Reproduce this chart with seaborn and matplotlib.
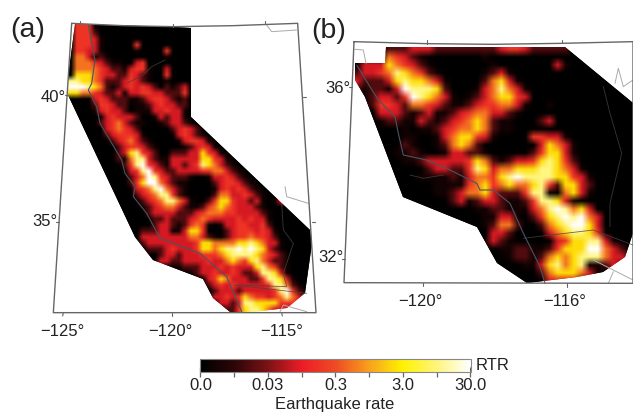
import numpy as np
import matplotlib
matplotlib.use('Agg')
import matplotlib.pyplot as plt
from matplotlib.colors import LinearSegmentedColormap, LogNorm
from matplotlib.path import Path
import seaborn as sns

# rate for each digit used in the grids below
rate_levels = [0.003, 0.005, 0.016, 0.075, 0.17, 0.52, 2.2, 10.0, 30.0]
bar_ticks = [0.003, 0.00949, 0.03, 0.0949, 0.3, 0.949, 3.0, 9.49, 30.0]
bar_labels = ['0.0', '', '0.03', '', '0.3', '', '3.0', '', '30.0']

grid_a = [
    "044410000000000000000",
    "044420000000000000000",
    "044431000000000000000",
    "044431000004000000000",
    "044331000001000040000",
    "055312100000000010000",
    "055543211003400000000",
    "055554322134410030000",
    "066654332243210040000",
    "776654222343210010000",
    "888765212343432021230",
    "665543223133443322240",
    "000034322211234432120",
    "000024432201123433220",
    "000013433201113343310",
    "00000134333200132331",
    "000002345321100123321",
    "0000003454320000023432",
    "00000023444310000034321",
    "000000023453210000134431",
    "0000000023443210000123431",
    "00000000236743200222336431",
    "000000002157732113333366431",
    "0000000002478432133234765321",
    "00000000003478432233334455321",
    "000000000023587432221001334321",
    "0000000000246885321100002344321",
    "00000000000345785321000013434321",
    "000000000002345774210000255334321",
    "00000000000023457753100246643323101330000",
    "00000000000012345532112456543332100000000",
    "00000000000002333322234555443333210000000",
    "00000000000000223222345433334343310000000",
    "00000000000000233212454101334433420000000",
    "00000000000022233113664000234443431000000",
    "00000000000033333333553210234454432000000",
    "00000000000023333333346655556676533100000",
    "00000000000002223433346656778787632100000",
    "00000000000000023323334445677776543210000",
    "00000000000000033223333433565467532210000",
    "00000000000000000112223334343336754210000",
    "00000000000000000000123343343223776310000",
    "00000000000000000000000346533322477631000",
    "00000000000000000000000234343333347752100",
    "00000000000000000000000023332333334784210",
    "00000000000000000000000033434654434575320",
    "00000000000000000000000003323776666444320",
    "00000000000000000000000000224677653332100",
]

grid_b = [
    "000022233322222222344322222",
    "0000543210000000100000000",
    "033365432100000001000000031",
    "233457654210000012310",
    "3222367665310000256310",
    "2122138777620001357531",
    "0123324876531012356643",
    "0024432554321123445531001",
    "000333212311234553321",
    "0001221132123456521100023",
    "00000010112345565211",
    "000000110013566431000044331",
    "0000002100125652000000036531",
    "0000011210013322100000246631",
    "0000001123333346521233467642",
    "00000000023322476355666776531",
    "000000001111213554678777766431",
    "000000000011114564565567426632",
    "000000000011235563222477105631",
    "0000000000002312332112477631",
    "000000000000000112211135787563",
    "0000000000000000113310246787853",
    "0000000000000000125520025678863",
    "00000000000000000332000035677641",
    "000000000000000013210000034667731",
    "0000000000000000001122112466688532",
    "00000000000000000001221256567775332",
    "0000000000000000000001136756711232",
    "000000000000000000000002566653100",
    "000000000000000000000000333310",
]

# map outlines, traced in 3x picture pixels
region_a = [(225, 72), (520, 82), (572, 84), (572, 350), (930, 690), (935, 730), (915, 880), (860, 925),
            (730, 938), (690, 935), (640, 895), (610, 838), (460, 780), (405, 710), (205, 285), (205, 235)]
frame_a = [(215, 70), (370, 77), (520, 80), (700, 77), (893, 70), (948, 938), (160, 938), (215, 70)]
coast_a = [(265, 75), (285, 180), (275, 250), (265, 270), (290, 320), (300, 370), (365, 480), (375, 520),
           (405, 560), (400, 590), (440, 640), (480, 715), (600, 760), (680, 830), (725, 935)]
border_a = [[(845, 610), (850, 690), (880, 730), (850, 820), (860, 860), (715, 855)], [(700, 855), (920, 880)],
            [(380, 250), (430, 225), (455, 200), (495, 180)]]
outer_a = [[(800, 75), (815, 95), (890, 90)], [(855, 560), (860, 590), (925, 610)],
           [(840, 935), (850, 915), (920, 935)]]

region_b = [(228, 140), (765, 140), (969, 310), (969, 700), (945, 770), (880, 815), (800, 830), (650, 848),
            (560, 790), (500, 680), (280, 590), (165, 290), (135, 240), (135, 190), (225, 190)]
frame_b = [(132, 125), (350, 131), (550, 133), (755, 130), (969, 125), (969, 850), (102, 848), (132, 125)]
coast_b = [(140, 195), (180, 260), (205, 300), (255, 350), (265, 400), (280, 465), (350, 480), (420, 510),
           (500, 550), (510, 570), (550, 570), (600, 610), (640, 700), (690, 800), (705, 850)]
border_b = [[(640, 715), (850, 690), (969, 735)], [(880, 260), (900, 340), (935, 460), (900, 610), (900, 680)],
            [(300, 525), (340, 535), (400, 525)]]
outer_b = [[(135, 148), (160, 150), (168, 190)], [(915, 250), (925, 205), (940, 260), (969, 240)],
           [(850, 780), (890, 800), (969, 840)], [(895, 850), (910, 815)]]


def rates(rows, ncols):
    cells = [[rate_levels[int(ch)] for ch in row.ljust(ncols, '0')[:ncols]] for row in rows]
    return np.array(cells)


def to_px(points, dx=0):
    pts = np.array(points, dtype=float) / 3
    pts[:, 0] += dx
    return pts


def raster(fig, overlay, data, box, region, cmap, norm, cax=None):
    W, H = fig.get_size_inches() * fig.dpi
    x0, y0, x1, y1 = box
    ax = fig.add_axes([x0 / W, 1 - y1 / H, (x1 - x0) / W, (y1 - y0) / H])
    kws = {'orientation': 'horizontal'}
    if cax is None:
        sns.heatmap(data, ax=ax, cmap=cmap, norm=norm, cbar=False, xticklabels=False, yticklabels=False)
    else:
        sns.heatmap(data, ax=ax, cmap=cmap, norm=norm, cbar_ax=cax, cbar_kws=kws,
                    xticklabels=False, yticklabels=False)
    xl, yl = ax.get_xlim(), ax.get_ylim()
    # reference is a soft resampled raster
    im = ax.imshow(data, cmap=cmap, norm=norm, extent=(0, data.shape[1], data.shape[0], 0), aspect='auto',
                   interpolation='bilinear', interpolation_stage='rgba', zorder=3)
    ax.set_xlim(xl)
    ax.set_ylim(yl)
    ax.axis('off')
    clip = Path(np.vstack([region, region[:1]]))
    im.set_clip_path(clip, transform=overlay.transData)
    ax.collections[0].set_clip_path(clip, transform=overlay.transData)
    return ax


sns.set_theme(style='white')
plt.rcParams['font.family'] = ['Liberation Sans', 'DejaVu Sans']

fig = plt.figure(figsize=(6.33, 4.12), dpi=100)
overlay = fig.add_axes([0, 0, 1, 1], zorder=5)
overlay.set_xlim(0, 633)
overlay.set_ylim(412, 0)
overlay.axis('off')
overlay.patch.set_alpha(0)

colors = [(0.0, '#000000'), (0.125, '#2c0607'), (0.25, '#7c1216'), (0.375, '#ec1c26'), (0.5, '#ef4a24'),
          (0.625, '#f8a01c'), (0.75, '#fff200'), (0.875, '#fff57a'), (1.0, '#ffffff')]
cmap = LinearSegmentedColormap.from_list('rtr', colors)
norm = LogNorm(vmin=rate_levels[0], vmax=rate_levels[-1])

cax = fig.add_axes([200.5 / 633, 1 - 372 / 412, 270 / 633, 13 / 412])
raster(fig, overlay, rates(grid_a, 41), (68, 24, 314, 312), to_px(region_a), cmap, norm, cax=cax)
raster(fig, overlay, rates(grid_b, 35), (353.33, 45, 633.33, 285), to_px(region_b, 310), cmap, norm)

cbar = fig.axes[2].collections[0].colorbar
cbar.set_ticks(bar_ticks, labels=bar_labels)
cax.minorticks_off()
cax.tick_params(axis='x', length=7, width=0.9, color='#666666', direction='inout', labelsize=12, pad=1,
                labelcolor='#222222', bottom=True)
cbar.outline.set_visible(True)
cbar.outline.set_linewidth(0.8)
cbar.outline.set_edgecolor('#888888')
overlay.text(476, 365.5, 'RTR', fontsize=12, color='#222222', ha='left', va='center')
overlay.text(335, 404, 'Earthquake rate', fontsize=12, color='#222222', ha='center', va='center')

for pts, dx, lines, outers, coast in [(frame_a, 0, border_a, outer_a, coast_a), (frame_b, 310, border_b, outer_b, coast_b)]:
    for ln in outers:
        p = to_px(ln, dx)
        overlay.plot(p[:, 0], p[:, 1], color='#aaaaaa', lw=0.7)
    for ln in lines:
        p = to_px(ln, dx)
        overlay.plot(p[:, 0], p[:, 1], color='#444444', lw=0.6, alpha=0.8)
    p = to_px(coast, dx)
    overlay.plot(p[:, 0], p[:, 1], color='#4a5560', lw=0.8)
    p = to_px(pts, dx)
    overlay.plot(p[:, 0], p[:, 1], color='#666666', lw=1.0, clip_on=False)

# graticule ticks on the frames
ticks_a = [[(190, 938), (188, 948)], [(515, 938), (515, 948)], [(845, 938), (847, 948)], [(240, 72), (240, 64)],
           [(518, 80), (518, 72)], [(795, 72), (795, 64)], [(205, 285), (195, 285)], [(178, 665), (168, 665)],
           [(908, 290), (918, 290)], [(936, 665), (946, 665)]]
ticks_b = [[(340, 848), (340, 858)], [(770, 850), (770, 860)], [(350, 131), (350, 121)], [(755, 130), (755, 120)],
           [(126, 262), (116, 262)], [(105, 778), (95, 778)]]
for dx, ticks in [(0, ticks_a), (310, ticks_b)]:
    for t in ticks:
        p = to_px(t, dx)
        overlay.plot(p[:, 0], p[:, 1], color='#666666', lw=0.8)

tick_text = [(62, 331, '\u2212125\u00b0'), (170, 332, '\u2212120\u00b0'), (282, 332, '\u2212115\u00b0'),
             (420, 302, '\u2212120\u00b0'), (565, 302, '\u2212116\u00b0')]
for x, y, s in tick_text:
    overlay.text(x, y, s, fontsize=12, color='#222222', ha='center', va='center')
for x, y, s in [(66, 97, '40\u00b0'), (57, 221, '35\u00b0'), (350, 88, '36\u00b0'), (344, 258, '32\u00b0')]:
    overlay.text(x, y, s, fontsize=12, color='#222222', ha='right', va='center')
overlay.text(10, 30, '(a)', fontsize=20.5, color='#222222', ha='left', va='center')
overlay.text(311, 31, '(b)', fontsize=20.5, color='#222222', ha='left', va='center')

fig.savefig('out.png', dpi=100)
